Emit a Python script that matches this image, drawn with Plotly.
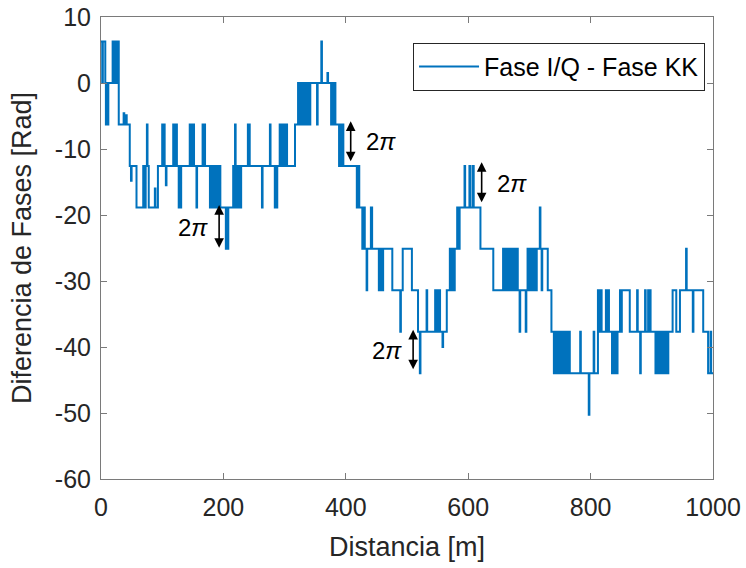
import plotly.graph_objects as go

# Phase difference steps (change points; value holds until next point)
dist_m = [
    0, 2, 3, 7, 8, 9, 11, 12, 19, 22, 23, 25, 26, 29, 37, 38, 41, 42, 47, 49, 50, 58, 69, 71, 73, 75, 76, 78, 88, 89, 93,
    100, 101, 102, 104, 106, 107, 118, 119, 121, 124, 127, 128, 130, 131, 145, 147, 149, 152, 156, 157, 166, 168, 169, 170,
    178, 180, 182, 184, 186, 188, 190, 192, 195, 204, 206, 207, 208, 216, 217, 219, 220, 222, 223, 225, 226, 228, 229,
    240, 241, 242, 243, 263, 264, 276, 277, 284, 285, 287, 288, 292, 294, 296, 297, 299, 300, 302, 304, 317,
    322, 323, 325, 326, 328, 330, 331, 333, 335, 336, 338, 341, 342, 353, 354, 360, 361, 370, 371,
    376, 378, 380, 382, 383, 389, 391, 393, 394, 396,
    418, 420, 422, 427, 429, 431, 434, 435, 441, 443, 454, 455, 458, 461, 476, 489, 490, 493, 508, 518, 521, 522,
    532, 533, 546, 548, 550, 551, 553, 554, 558, 559, 565, 570, 572, 574, 576, 578, 582, 584, 586,
    594, 595, 602, 603, 607, 609, 620, 641, 657, 659, 661, 663, 665, 667, 669, 671, 673, 676, 678, 681, 684, 685, 694, 695,
    697, 699, 700, 702, 703, 705, 706, 708, 709, 711, 712, 717, 718, 720, 721, 730, 736,
    740, 742, 744, 746, 748, 750, 752, 754, 757, 759, 762, 764, 766,
    783, 784, 797, 798, 805, 806, 812, 814, 816, 818, 825, 826, 829, 830, 835, 837, 838, 840, 842, 844,
    848, 850, 851, 864, 876, 877, 881, 882, 889, 890, 894, 896, 897, 898,
    906, 908, 909, 911, 912, 914, 915, 917, 919, 921, 922, 924, 925, 927, 934, 940, 946, 956, 957, 967, 968,
    984, 992, 996, 997, 1000,
]

phase_rad = [
    6.28, 0, 6.28, 0, -6.28, 0, -6.28, 0, 6.28, 0, 6.28, 0, 6.28, -6.28, -4.6, -6.28, -4.9, -6.28, -12.57, -14.8, -12.57,
    -18.85, -12.57, -18.85, -12.57, -6.28, -12.57, -18.85, -16.0, -18.85, -12.57,
    -6.28, -12.57, -6.28, -12.57, -15.5, -12.57, -6.28, -12.57, -6.28, -12.57, -18.85, -12.57, -18.85, -12.57,
    -6.28, -12.57, -6.28, -12.57, -18.85, -12.57, -6.28, -12.57, -6.28, -12.57,
    -18.85, -12.57, -18.85, -12.57, -18.85, -12.57, -18.85, -12.57, -18.85, -25.13, -18.85, -25.13, -18.85,
    -12.57, -18.85, -6.28, -12.57, -18.85, -12.57, -18.85, -12.57, -18.85, -12.57,
    -6.28, -12.57, -6.28, -12.57, -18.85, -12.57, -6.28, -12.57, -18.85, -12.57, -18.85, -12.57,
    -6.28, -12.57, -6.28, -12.57, -6.28, -12.57, -6.28, -12.57, -6.28,
    0, -6.28, 0, -6.28, 0, -6.28, 0, -6.28, 0, -6.28, 0, -6.28, 0, -6.28, 0, 6.28, 0, 1.5, 0,
    -6.28, 0, -6.28, 0, -6.28, -12.57, -6.28, -12.57, -6.28, -12.57,
    -18.85, -12.57, -18.85, -25.13, -18.85, -25.13, -31.42, -25.13, -18.85, -25.13, -31.42, -25.13, -31.42, -25.13,
    -31.42, -37.70, -31.42, -25.13, -31.42, -37.70, -43.98, -37.70,
    -31.42, -37.70, -31.42, -37.70, -31.42, -37.70, -31.42, -37.70, -40.0, -37.70, -31.42, -25.13, -31.42, -25.13,
    -31.42, -25.13, -18.85, -25.13, -18.85,
    -12.57, -18.85, -12.57, -18.85, -12.57, -18.85, -25.13, -31.42, -25.13, -31.42, -25.13, -31.42, -25.13, -31.42,
    -25.13, -31.42, -25.13, -31.42, -25.13, -31.42, -37.70, -31.42, -37.70, -31.42,
    -25.13, -31.42, -25.13, -31.42, -25.13, -31.42, -25.13, -31.42, -25.13, -31.42, -25.13, -18.85, -25.13, -31.42,
    -25.13, -31.42, -37.70,
    -43.98, -37.70, -43.98, -37.70, -43.98, -37.70, -43.98, -37.70, -43.98, -37.70, -43.98, -37.70, -43.98,
    -37.70, -43.98, -50.27, -43.98, -37.70, -43.98, -31.42, -37.70, -31.42, -37.70, -31.42, -37.70, -31.42, -37.70,
    -43.98, -37.70, -43.98, -37.70, -43.98, -37.70,
    -31.42, -37.70, -31.42, -37.70, -31.42, -37.70, -43.98, -37.70, -31.42, -37.70, -31.42, -37.70, -31.42, -37.70,
    -43.98, -37.70, -43.98, -37.70, -43.98, -37.70, -43.98, -37.70, -43.98, -37.70, -43.98, -37.70, -43.98, -37.70,
    -31.42, -37.70, -31.42, -25.13, -31.42, -37.70, -31.42,
    -37.70, -43.98, -37.70, -43.98, -43.98,
]

# 2*pi jump markers: (x, y_top, y_bottom) and label positions
arrow_x = [193, 408, 622, 510]
arrow_top = [-18.5, -5.8, -12.0, -37.4]
arrow_bot = [-25.2, -12.1, -18.3, -43.6]
label_x = [150, 457, 672, 468]
label_y = [-21.9, -8.9, -15.2, -40.6]
label_text = "2<i>π</i>"

x_ticks = [0, 200, 400, 600, 800, 1000]
x_tick_labels = ["0", "200", "400", "600", "800", "1000"]
y_ticks = [-60, -50, -40, -30, -20, -10, 0, 10]
y_tick_labels = ["-60", "-50", "-40", "-30", "-20", "-10", "0", "10"]

FONT = "Liberation Sans, Arial, Helvetica, sans-serif"
TXT = "#262626"
AX = "#7a7a7a"

fig = go.Figure()
fig.add_trace(go.Scatter(
    x=dist_m, y=phase_rad, mode="lines", line_shape="hv",
    line=dict(color="#0072BD", width=2),
    name="Fase I/Q - Fase KK",
))

annotations = []
for xa, yt, yb in zip(arrow_x, arrow_top, arrow_bot):
    annotations.append(dict(
        x=xa, y=yt, ax=xa, ay=yb, xref="x", yref="y", axref="x", ayref="y",
        text="", showarrow=True, arrowhead=2, arrowside="end+start",
        arrowsize=1.2, arrowwidth=1.6, arrowcolor="black", standoff=0, startstandoff=0,
    ))
for lx, ly in zip(label_x, label_y):
    annotations.append(dict(
        x=lx, y=ly, xref="x", yref="y", text=label_text, showarrow=False,
        font=dict(family=FONT, size=24, color="black"),
    ))

axis_common = dict(
    showline=True, linecolor=AX, linewidth=1, mirror="ticks",
    ticks="inside", ticklen=6, tickcolor=AX, showgrid=False, zeroline=False,
    tickfont=dict(family=FONT, size=25, color=TXT), automargin=False,
    ticklabeloverflow="allow",
)

fig.update_layout(
    width=746, height=568,
    margin=dict(l=101, r=33, t=17, b=89, autoexpand=False),
    paper_bgcolor="white", plot_bgcolor="white",
    xaxis=dict(range=[0, 1000], tickvals=x_ticks, ticktext=x_tick_labels, ticklabelstandoff=6,
               title=dict(text="Distancia [m]", font=dict(family=FONT, size=27, color=TXT), standoff=17),
               **axis_common),
    yaxis=dict(range=[-60, 10], tickvals=y_ticks, ticktext=y_tick_labels, ticklabelstandoff=4,
               title=dict(text="Diferencia de Fases [Rad]", font=dict(family=FONT, size=27, color=TXT)),
               **axis_common),
    legend=dict(x=0.987, y=0.944, xanchor="right", yanchor="top", itemwidth=60,
                bgcolor="white", bordercolor=TXT, borderwidth=1,
                font=dict(family=FONT, size=25, color="black")),
    showlegend=True,
    annotations=annotations,
)

fig.write_html("out.html", config={"displayModeBar": False},
               post_script="document.body.style.margin='0';")
